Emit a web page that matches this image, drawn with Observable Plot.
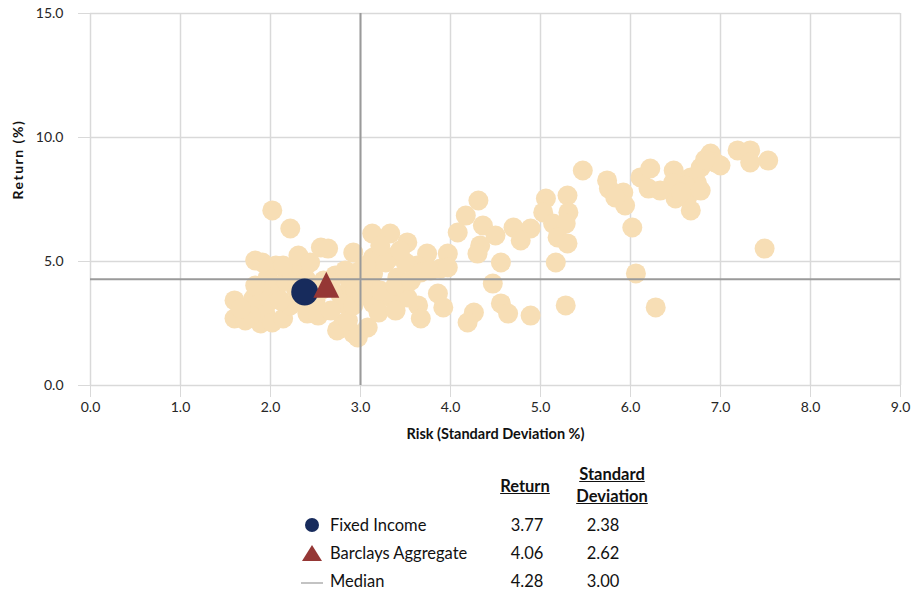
<!DOCTYPE html>
<html>
<head>
<meta charset="utf-8">
<script src="https://cdn.jsdelivr.net/npm/d3@7"></script>
<script src="https://cdn.jsdelivr.net/npm/@observablehq/plot@0.6"></script>
<style>
  body { margin: 0; background: #fff; font-family: Lato, "Open Sans", sans-serif; }
  #wrap { position: relative; width: 916px; height: 593px; }
  #legend { position: absolute; left: 0; top: 0; width: 916px; height: 593px; pointer-events: none; color: #111; font-size: 16.5px; }
  #legend div { position: absolute; white-space: nowrap; }
  .hdr { font-weight: bold; text-decoration: underline; text-align: center; line-height: 22px; }
  .val { text-align: center; width: 60px; }
</style>
</head>
<body>
<div id="wrap"><div id="chart"></div><div id="legend"></div></div>
<script>
// Scatter data: risk (std dev %) and return (%) for each peer fund
const risk = [2.02,2.22,1.83,1.60,1.60,1.78,1.81,1.89,1.94,2.00,2.06,2.02,2.14,2.22,2.17,1.97,2.06,2.22,2.33,2.39,2.44,2.33,2.41,2.50,2.56,2.59,2.67,2.78,2.81,2.72,2.83,2.89,2.94,1.78,1.72,1.89,1.91,2.14,2.31,2.44,2.56,2.64,2.92,2.81,2.74,2.92,2.97,3.08,2.86,2.11,2.28,1.67,1.83,2.53,2.67,
3.13,3.33,3.52,3.74,3.97,3.89,3.63,3.14,3.33,3.14,3.41,3.86,3.92,3.64,3.67,3.52,3.33,3.14,2.92,3.06,3.28,3.50,3.44,3.22,3.00,3.11,3.22,3.39,3.56,3.67,3.78,3.02,3.20,3.39,
4.31,4.17,4.08,4.36,4.50,4.33,4.30,4.56,4.70,4.89,4.78,5.06,5.30,5.03,5.31,5.14,5.28,5.19,5.30,5.17,3.97,4.47,4.56,4.64,4.26,4.19,4.89,5.28,
5.47,5.74,5.76,5.92,5.94,5.83,6.11,6.22,6.20,6.02,6.06,6.28,6.48,6.47,6.50,6.67,6.63,6.74,6.67,6.78,6.89,6.94,7.00,7.19,7.33,7.33,7.53,7.49,6.61,6.56,6.78,6.83,6.33];
const ret = [7.06,6.33,5.04,3.43,2.70,3.23,3.51,2.50,2.94,3.43,3.83,2.54,2.70,3.23,4.23,4.35,4.84,4.64,4.84,4.31,3.83,3.43,2.90,3.43,3.83,4.23,4.03,3.63,3.31,4.44,4.64,4.03,3.83,2.82,2.62,3.83,4.96,4.84,5.24,4.96,5.56,5.52,5.36,2.50,2.22,2.10,1.94,2.34,2.62,3.43,3.91,3.10,4.03,2.82,3.02,
6.13,6.13,5.77,5.32,5.32,4.72,4.84,5.16,5.16,4.52,4.35,3.71,3.15,3.23,2.70,3.55,3.55,3.31,3.23,4.84,4.96,4.96,5.44,5.65,4.64,4.03,3.83,4.03,4.23,4.56,4.64,3.63,2.94,3.02,
7.46,6.85,6.17,6.45,6.05,5.65,5.32,4.96,6.37,6.33,5.85,7.54,7.66,6.98,6.98,6.53,6.53,5.97,5.73,4.96,4.76,4.11,3.31,2.90,2.94,2.54,2.82,3.23,
8.67,8.27,7.94,7.78,7.26,7.58,8.39,8.75,7.94,6.37,4.52,3.15,8.67,8.15,7.54,7.06,7.58,8.15,8.39,8.79,9.35,8.99,8.87,9.48,9.48,8.99,9.07,5.52,8.06,7.78,7.86,9.11,7.86];

// Highlighted series and medians
const legendNames = ["Fixed Income", "Barclays Aggregate", "Median"];
const legendReturn = [3.77, 4.06, 4.28];
const legendStd = [2.38, 2.62, 3.00];

// Axis ticks
const xTicks = [0,1,2,3,4,5,6,7,8,9];
const yTicks = [0,5,10,15];

const points = risk.map((r, i) => ({risk: r, ret: ret[i]}));
const fixedIncome = [{risk: legendStd[0], ret: legendReturn[0]}];
const aggregate = [{risk: legendStd[1], ret: legendReturn[1]}];

const triSymbol = {
  draw(context, size) {
    const s = Math.sqrt(size / Math.PI);
    context.moveTo(0, -1.3 * s);
    context.lineTo(1.3 * s, 1.3 * s);
    context.lineTo(-1.3 * s, 1.3 * s);
    context.closePath();
  }
};

const fmt = d => d.toFixed(1);
const font = "Lato, 'Open Sans', sans-serif";

const chart = Plot.plot({
  width: 916,
  height: 445,
  marginLeft: 90,
  marginRight: 16,
  marginTop: 13,
  marginBottom: 60,
  style: {fontFamily: font, fontSize: "14px", background: "#fff"},
  x: {domain: [0, 9]},
  y: {domain: [0, 15]},
  marks: [
    Plot.ruleX(xTicks, {stroke: "#d9d9d9", strokeWidth: 1.5}),
    Plot.ruleY(yTicks, {stroke: "#d9d9d9", strokeWidth: 1.5}),
    Plot.axisX({ticks: xTicks, tickFormat: fmt, tickSize: 12, tickPadding: 5, stroke: "#d9d9d9", fill: "#262626", label: null, fontSize: 14}),
    Plot.axisY({ticks: yTicks, tickFormat: fmt, tickSize: 12, tickPadding: 15, stroke: "#d9d9d9", fill: "#262626", label: null, fontSize: 14}),
    Plot.dot(points, {x: "risk", y: "ret", r: 10, fill: "#F7DEB5"}),
    Plot.ruleX([legendStd[2]], {stroke: "#9a9a9a", strokeWidth: 2}),
    Plot.ruleY([legendReturn[2]], {stroke: "#9a9a9a", strokeWidth: 2}),
    Plot.dot(fixedIncome, {x: "risk", y: "ret", r: 13.5, fill: "#172B5C"}),
    Plot.dot(aggregate, {x: "risk", y: "ret", r: 10, symbol: triSymbol, fill: "#953735"}),
    Plot.text(["Return (%)"], {frameAnchor: "left", dx: -72, rotate: -90, fontWeight: "bold", fontSize: 14, fill: "#111", style: "letter-spacing:1.2px"}),
    Plot.text(["Risk (Standard Deviation %)"], {frameAnchor: "bottom", dy: 53, fontWeight: "bold", fontSize: 14.5, fill: "#111"})
  ]
});
document.getElementById("chart").appendChild(chart);
chart.querySelectorAll("text").forEach(t => { if (t.textContent === "Return (%)") t.setAttribute("letter-spacing", "1.5"); });

// Legend table below the chart
const lg = document.getElementById("legend");
function add(html, style, cls) {
  const d = document.createElement("div");
  d.innerHTML = html;
  if (cls) d.className = cls;
  Object.assign(d.style, style);
  lg.appendChild(d);
}
add("Return", {left: "495px", top: "475px", width: "60px"}, "hdr");
add("Standard<br>Deviation", {left: "562px", top: "463px", width: "100px"}, "hdr");
const rowY = [525, 553, 581];
legendNames.forEach((name, i) => {
  const y = rowY[i];
  let marker;
  if (i === 0) marker = `<svg width="16" height="16"><circle cx="8" cy="8" r="7" fill="#172B5C"/></svg>`;
  else if (i === 1) marker = `<svg width="22" height="18"><path d="M11 1 L21 17 L1 17 Z" fill="#953735"/></svg>`;
  else marker = `<svg width="22" height="6"><line x1="0" x2="22" y1="3" y2="3" stroke="#9a9a9a" stroke-width="1.2"/></svg>`;
  const mh = i === 0 ? 16 : i === 1 ? 18 : 6;
  add(marker, {left: (i === 0 ? 304 : 301) + "px", top: (y - mh / 2 + (i === 2 ? 2 : 0)) + "px", lineHeight: "0"});
  add(name, {left: "330px", top: (y - 11) + "px", lineHeight: "22px"});
  add(legendReturn[i].toFixed(2), {left: "497px", top: (y - 11) + "px", lineHeight: "22px"}, "val");
  add(legendStd[i].toFixed(2), {left: "573px", top: (y - 11) + "px", lineHeight: "22px"}, "val");
});
</script>
</body>
</html>
